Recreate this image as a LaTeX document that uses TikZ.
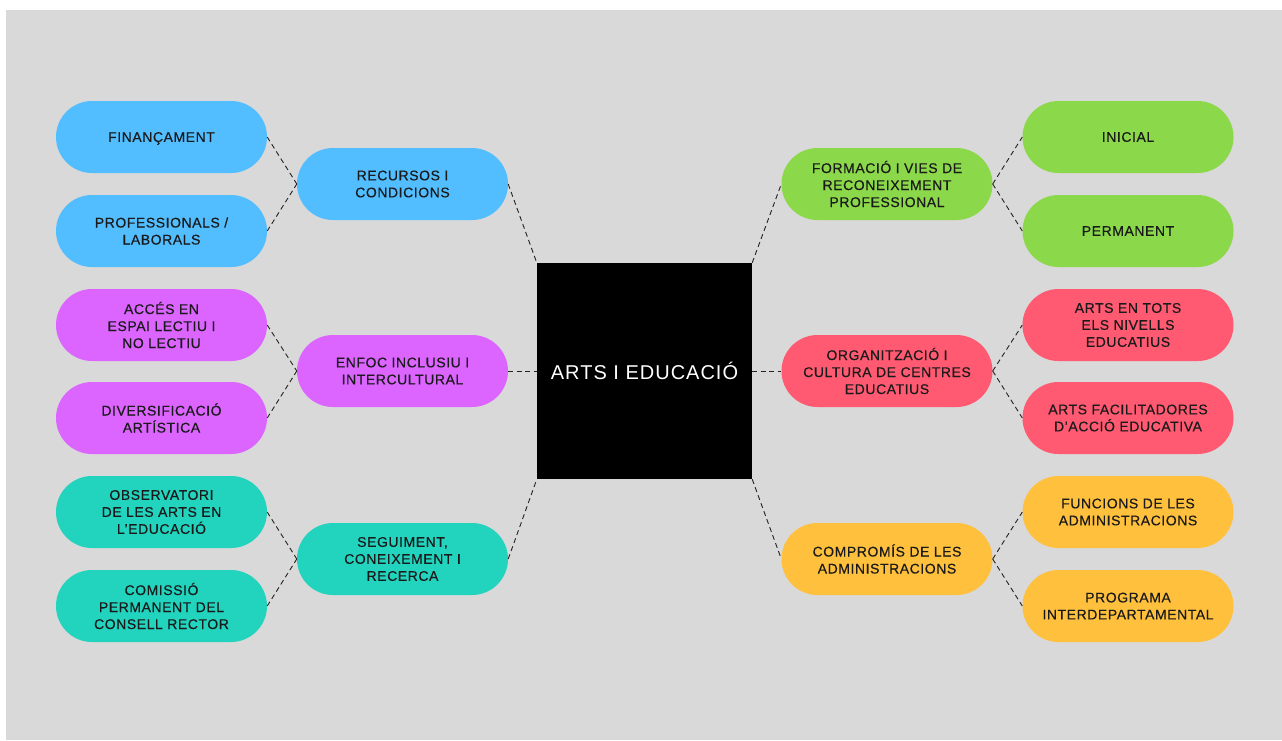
\documentclass[tikz,border=0pt]{standalone}
\usepackage{fontspec}
\setmainfont{Liberation Sans}
\newfontfamily\pillfont[LetterSpace=4,FakeBold=0.3]{Liberation Sans}
\newfontfamily\hubfont[LetterSpace=5]{Liberation Sans}
\definecolor{bgGray}{HTML}{D9D9D9}
\definecolor{inkDark}{HTML}{1A1A1A}
\definecolor{linkDark}{HTML}{222222}
\definecolor{pillBlue}{HTML}{52BEFF}
\definecolor{pillPurple}{HTML}{DC64FF}
\definecolor{pillTeal}{HTML}{22D3BE}
\definecolor{pillGreen}{HTML}{8CD84B}
\definecolor{pillRed}{HTML}{FF5A72}
\definecolor{pillYellow}{HTML}{FFC13D}

\begin{document}
\begin{tikzpicture}[x=1pt,y=-1pt]

% Styles
\tikzset{
    pill/.style={rectangle, rounded corners=36pt, minimum width=211pt,
        minimum height=72pt, inner sep=0pt, align=center, text=inkDark,
        font=\pillfont\fontsize{14}{17}\selectfont},
    hub/.style={rectangle, fill=black, minimum width=215pt, minimum height=216pt,
        inner sep=0pt, text=white, font=\hubfont\fontsize{20}{24}\selectfont},
    link/.style={draw=linkDark, line width=0.9pt, dash pattern=on 5pt off 3.5pt}
}

% Background
\useasboundingbox (0,0) rectangle (1282,740);
\fill[white] (0,0) rectangle (1282,740);
\fill[bgGray] (6,10) rectangle (1282,740);

% Centre
\node[hub] (ARTS) at (644.5,371) {ARTS I EDUCACIÓ};

% Left branches
\node[pill, fill=pillBlue] (REC) at (402.5,184) {RECURSOS I\\CONDICIONS};
\node[pill, fill=pillPurple] (ENF) at (402.5,371) {ENFOC INCLUSIU I\\INTERCULTURAL};
\node[pill, fill=pillTeal] (SEG) at (402.5,559) {SEGUIMENT,\\CONEIXEMENT I\\RECERCA};

\node[pill, fill=pillBlue] (FIN) at (161.5,137) {\raisebox{0pt}[\height][0pt]{FINANÇAMENT}};
\node[pill, fill=pillBlue] (PRO) at (161.5,231) {PROFESSIONALS /\\LABORALS};
\node[pill, fill=pillPurple] (ACC) at (161.5,325) {ACCÉS EN\\ESPAI LECTIU I\\NO LECTIU};
\node[pill, fill=pillPurple] (DIV) at (161.5,418) {DIVERSIFICACIÓ\\ARTÍSTICA};
\node[pill, fill=pillTeal] (OBS) at (161.5,512) {OBSERVATORI\\DE LES ARTS EN\\L’EDUCACIÓ};
\node[pill, fill=pillTeal] (COM) at (161.5,606) {COMISSIÓ\\PERMANENT DEL\\CONSELL RECTOR};

% Right branches
\node[pill, fill=pillGreen] (FOR) at (887,184) {FORMACIÓ I VIES DE\\RECONEIXEMENT\\PROFESSIONAL};
\node[pill, fill=pillRed] (ORG) at (887,371) {ORGANITZACIÓ I\\CULTURA DE CENTRES\\EDUCATIUS};
\node[pill, fill=pillYellow] (CMP) at (887,559) {COMPROMÍS DE LES\\ADMINISTRACIONS};

\node[pill, fill=pillGreen] (INI) at (1128,137) {INICIAL};
\node[pill, fill=pillGreen] (PER) at (1128,231) {PERMANENT};
\node[pill, fill=pillRed] (NIV) at (1128,325) {ARTS EN TOTS\\ELS NIVELLS\\EDUCATIUS};
\node[pill, fill=pillRed] (FAC) at (1128,418) {ARTS FACILITADORES\\D’ACCIÓ EDUCATIVA};
\node[pill, fill=pillYellow] (FUN) at (1128,512) {FUNCIONS DE LES\\ADMINISTRACIONS};
\node[pill, fill=pillYellow] (PRG) at (1128,606) {PROGRAMA\\INTERDEPARTAMENTAL};

% Connections
\draw[link] (REC.east) -- (ARTS.north west);
\draw[link] (ENF.east) -- (ARTS.west);
\draw[link] (SEG.east) -- (ARTS.south west);
\draw[link] (FIN.east) -- (REC.west);
\draw[link] (PRO.east) -- (REC.west);
\draw[link] (ACC.east) -- (ENF.west);
\draw[link] (DIV.east) -- (ENF.west);
\draw[link] (OBS.east) -- (SEG.west);
\draw[link] (COM.east) -- (SEG.west);

\draw[link] (ARTS.north east) -- (FOR.west);
\draw[link] (ARTS.east) -- (ORG.west);
\draw[link] (ARTS.south east) -- (CMP.west);
\draw[link] (FOR.east) -- (INI.west);
\draw[link] (FOR.east) -- (PER.west);
\draw[link] (ORG.east) -- (NIV.west);
\draw[link] (ORG.east) -- (FAC.west);
\draw[link] (CMP.east) -- (FUN.west);
\draw[link] (CMP.east) -- (PRG.west);

\end{tikzpicture}
\end{document}
